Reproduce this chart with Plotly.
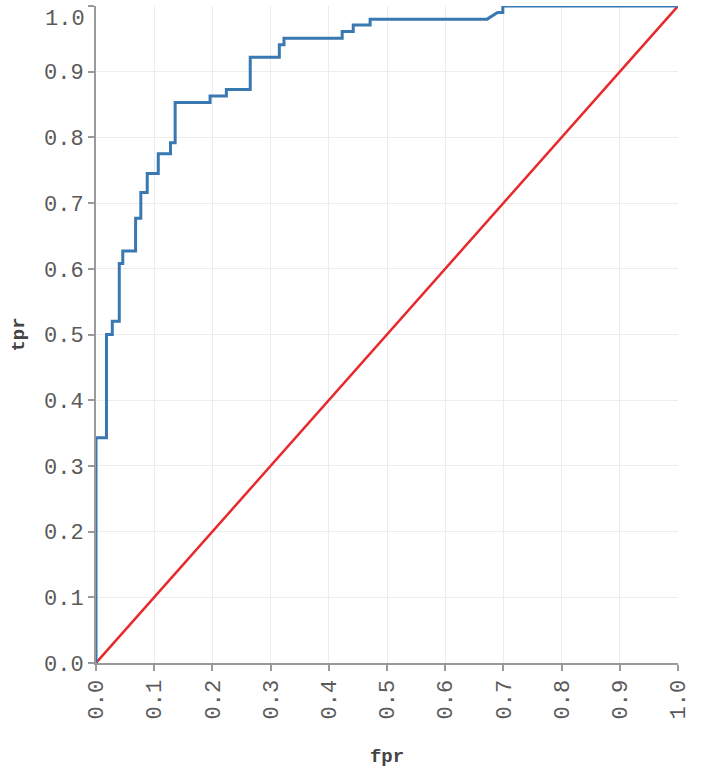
import plotly.graph_objects as go

# ROC curve corner points
fpr = [0, 0, 0.018, 0.018, 0.028, 0.028, 0.040, 0.040, 0.046, 0.046,
       0.068, 0.068, 0.077, 0.077, 0.088, 0.088, 0.107, 0.107, 0.128, 0.128,
       0.136, 0.136, 0.196, 0.196, 0.224, 0.224, 0.265, 0.265, 0.315, 0.315,
       0.323, 0.323, 0.423, 0.423, 0.442, 0.442, 0.471, 0.471, 0.672, 0.690,
       0.699, 0.699, 1.0]
tpr = [0, 0.343, 0.343, 0.500, 0.500, 0.520, 0.520, 0.608, 0.608, 0.627,
       0.627, 0.677, 0.677, 0.716, 0.716, 0.745, 0.745, 0.775, 0.775, 0.792,
       0.792, 0.853, 0.853, 0.863, 0.863, 0.873, 0.873, 0.922, 0.922, 0.941,
       0.941, 0.951, 0.951, 0.961, 0.961, 0.971, 0.971, 0.980, 0.980, 0.990,
       0.990, 1.0, 1.0]

# chance diagonal
diag_x = [0.0, 1.0]
diag_y = [0.0, 1.0]

tick_vals = [0.0, 0.1, 0.2, 0.3, 0.4, 0.5, 0.6, 0.7, 0.8, 0.9, 1.0]
tick_text = ["0.0", "0.1", "0.2", "0.3", "0.4", "0.5", "0.6", "0.7", "0.8", "0.9", "1.0"]

FONT = "Liberation Mono"
TICKFONT = dict(family=FONT, size=22, color="#5a5a5a")

fig = go.Figure()
fig.add_trace(go.Scatter(x=diag_x, y=diag_y, mode="lines",
                         line=dict(color="#e8282b", width=2.5),
                         showlegend=False, hoverinfo="skip"))
fig.add_trace(go.Scatter(x=fpr, y=tpr, mode="lines",
                         line=dict(color="#3a78b2", width=3),
                         showlegend=False))

axis_common = dict(
    range=[0, 1],
    tickvals=tick_vals,
    showgrid=True,
    gridcolor="#ececec",
    gridwidth=1,
    zeroline=False,
    showline=True,
    linecolor="#9a9a9a",
    linewidth=2,
    ticks="outside",
    ticklen=6,
    tickcolor="#9a9a9a",
    tickwidth=1.5,
    tickfont=TICKFONT,
)

# top y label is drawn as an annotation (nudged below the plot top, as in the reference)
y_ticktext = tick_text[:-1] + [""]

fig.update_layout(
    width=708,
    height=771,
    margin=dict(l=96, r=30, t=6, b=108),
    paper_bgcolor="white",
    plot_bgcolor="white",
    xaxis=dict(**axis_common, ticktext=tick_text, tickangle=-90,
               title=dict(text="fpr", standoff=30,
                          font=dict(family=FONT, size=19, color="#444", weight="bold"))),
    yaxis=dict(**axis_common, ticktext=y_ticktext,
               title=dict(text="tpr", standoff=14,
                          font=dict(family=FONT, size=19, color="#444", weight="bold"))),
)
fig.add_annotation(x=0, xref="paper", y=tick_vals[-1], yref="y",
                   text=tick_text[-1], showarrow=False,
                   xanchor="right", yanchor="middle", xshift=-9, yshift=-13,
                   font=TICKFONT)

fig.write_html("out.html")
